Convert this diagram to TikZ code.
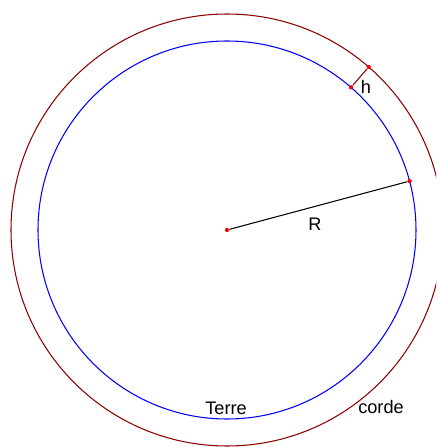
\documentclass[tikz,border=0pt]{standalone}
\usepackage{fontspec}
\setmainfont{Liberation Sans}

\tikzset{dot/.style={circle,fill=red,inner sep=0pt,minimum size=3.4pt}}

\begin{document}
\begin{tikzpicture}[x=0.03cm, y=0.03cm, line width=0.9pt, font=\fontsize{15.5}{18}\selectfont]
        \clip (-227,-217) rectangle (209,230);

        \node[dot] (o) at (0,0) {};
        \node[dot] (p) at (15:189) {};
        \node[dot] (hb) at (49:189) {};
        \node[dot] (ht) at (49:216) {};

        % Terre et corde
        \draw[blue] (o.center) circle [radius=189];
        \draw[red!55!black] (o.center) circle [radius=216];

        \draw[black] (o) -- (p);
        \draw[red!55!black] (hb) -- (ht);
        \node[dot] at (o) {};
        \node[dot] at (p) {};
        \node[dot] at (hb) {};
        \node[dot] at (ht) {};

        \node (lR) at (88,6) {R};
        \node (lh) at (139,143) {h};
        \node (lterre) at (-1,-178) {Terre};
        \node (lcorde) at (154,-177) {corde};
    \end{tikzpicture}
\end{document}
